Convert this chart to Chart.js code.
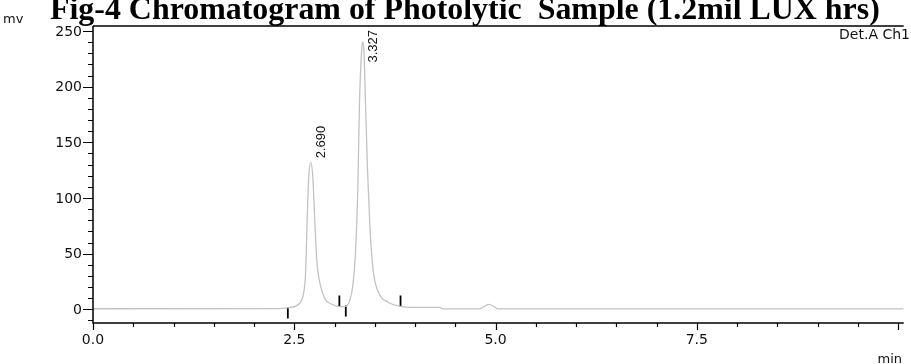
<!DOCTYPE html>
<html>
<head>
<meta charset="utf-8">
<title>Fig-4 Chromatogram</title>
<script src="https://cdn.jsdelivr.net/npm/chart.js@4.4.1/dist/chart.umd.min.js"></script>
<style>
    html, body { margin: 0; padding: 0; background: #fff; overflow: hidden; }
    #wrap { position: relative; width: 911px; height: 364px; }
</style>
</head>
<body>
<div id="wrap"><canvas id="chromChart" width="911" height="364"></canvas></div>
<script>
// Detector trace (time in min, signal in mV)
const times = [0, 2.30, 2.43, 2.51, 2.57, 2.61, 2.64, 2.66, 2.68, 2.705, 2.73, 2.755, 2.78, 2.82, 2.88, 2.96, 3.06,
    3.13, 3.19, 3.23, 3.26, 3.29, 3.31, 3.34, 3.35, 3.365, 3.385, 3.41, 3.44, 3.48, 3.555, 3.66, 3.82, 3.985,
    4.31, 4.35, 4.80, 4.86, 4.92, 4.98, 5.03, 6.00, 8.00, 10.07];
const signal = [0.5, 0.6, 1.5, 2.7, 5.7, 12.6, 32, 80, 119, 132, 119, 80, 44, 23, 9.6, 4.8, 2.4,
    2.4, 8, 23, 50, 110, 185, 236, 240, 233, 185, 125, 74, 35, 14, 6.6, 2.7, 1.8,
    1.8, 0.3, 0.3, 2.5, 4.5, 2.5, 0.3, 0.3, 0.3, 0.3];

// Integration marks (baseline start / end ticks)
const markerTimes = [2.42, 3.06, 3.14, 3.82];
const markerLevels = [-3.3, 7.5, -1.5, 7.5];

// Peak retention time labels
const peakLabels = ['2.690', '3.327'];
const peakTimes = [2.705, 3.35];
const peakHeights = [132, 240];

// Axis ticks
const yTickValues = [0, 50, 100, 150, 200, 250];
const xTickValues = [0, 2.5, 5.0, 7.5];
const xTickLabels = ['0.0', '2.5', '5.0', '7.5'];

const titleText = 'Fig-4 Chromatogram of Photolytic  Sample (1.2mil LUX hrs)';

const traceData = times.map((t, i) => ({ x: t, y: signal[i] }));
const markerData = markerTimes.map((t, i) => ({ x: t, y: markerLevels[i] }));

// Draws frame, ticks, labels and texts around the plot
const chromPlugin = {
    id: 'chromDecor',
    afterDatasetsDraw(chart) {
        const { ctx, chartArea: a, scales } = chart;
        const xs = scales.x, ys = scales.y;
        ctx.save();

        // frame lines
        ctx.strokeStyle = '#000';
        ctx.lineWidth = 1.5;
        ctx.beginPath();
        ctx.moveTo(a.left, a.top);
        ctx.lineTo(a.right, a.top);
        ctx.moveTo(a.left, a.top);
        ctx.lineTo(a.left, a.bottom);
        ctx.lineTo(a.right, a.bottom);
        ctx.stroke();

        // y ticks: minor every 10, major every 50
        ctx.lineWidth = 1.2;
        ctx.beginPath();
        for (let v = -10; v <= 250; v += 10) {
            const py = Math.round(ys.getPixelForValue(v)) + 0.5;
            const len = (v % 50 === 0) ? 10 : 5;
            ctx.moveTo(a.left - len, py);
            ctx.lineTo(a.left, py);
        }
        // x ticks: minor every 0.5, major every 2.5
        for (let k = 0; k <= 20; k++) {
            const t = k * 0.5;
            const px = Math.round(xs.getPixelForValue(t)) + 0.5;
            const len = (k % 5 === 0) ? 7 : 4;
            ctx.moveTo(px, a.bottom);
            ctx.lineTo(px, a.bottom + len);
        }
        ctx.stroke();

        ctx.fillStyle = '#111';
        ctx.font = '14px "DejaVu Sans"';
        ctx.textAlign = 'right';
        ctx.textBaseline = 'middle';
        yTickValues.forEach(v => {
            ctx.fillText(String(v), a.left - 11, ys.getPixelForValue(v) + 1);
        });
        ctx.textAlign = 'center';
        ctx.textBaseline = 'top';
        xTickValues.forEach((t, i) => {
            ctx.fillText(xTickLabels[i], xs.getPixelForValue(t), a.bottom + 10);
        });

        // axis units and detector name
        ctx.textAlign = 'left';
        ctx.textBaseline = 'alphabetic';
        ctx.font = '13px "DejaVu Sans"';
        ctx.fillText('mv', 3, 23);
        ctx.textAlign = 'right';
        ctx.fillText('min', 902, 363);
        ctx.font = '14px "DejaVu Sans"';
        ctx.fillText('Det.A Ch1', 910, 39);

        // peak labels, rotated, kept inside the frame
        ctx.font = '13px "Liberation Sans"';
        ctx.textAlign = 'left';
        ctx.textBaseline = 'middle';
        peakLabels.forEach((lab, i) => {
            const len = ctx.measureText(lab).width;
            const px = xs.getPixelForValue(peakTimes[i]) + 11;
            let bottom = ys.getPixelForValue(peakHeights[i]) - 4;
            if (bottom - len < a.top + 4) bottom = a.top + 4 + len;
            ctx.save();
            ctx.translate(px, bottom);
            ctx.rotate(-Math.PI / 2);
            ctx.fillText(lab, 0, 0);
            ctx.restore();
        });

        // title, top part cut by the page edge
        ctx.fillStyle = '#000';
        ctx.font = 'bold 28px "Liberation Serif"';
        const w = ctx.measureText(titleText).width;
        const size = 28 * 830 / w;
        ctx.font = 'bold ' + size.toFixed(2) + 'px "Liberation Serif"';
        ctx.textAlign = 'left';
        ctx.textBaseline = 'alphabetic';
        ctx.fillText(titleText, 50, 19);

        ctx.restore();
    }
};

const ctx = document.getElementById('chromChart').getContext('2d');
new Chart(ctx, {
    type: 'line',
    data: {
        datasets: [{
            label: 'Det.A Ch1',
            data: traceData,
            borderColor: '#c2c2c2',
            borderWidth: 1.3,
            pointRadius: 0,
            fill: false,
            cubicInterpolationMode: 'monotone'
        }, {
            type: 'scatter',
            label: 'marks',
            data: markerData,
            pointStyle: 'line',
            rotation: 90,
            radius: 5.5,
            borderColor: '#000',
            backgroundColor: '#000',
            borderWidth: 1.8
        }]
    },
    options: {
        responsive: false,
        animation: false,
        devicePixelRatio: 1,
        layout: { padding: { left: 93, top: 26, right: 0, bottom: 41 } },
        plugins: {
            legend: { display: false },
            tooltip: { enabled: false },
            title: { display: false }
        },
        scales: {
            x: { type: 'linear', min: 0, max: 10.07, display: false },
            y: { type: 'linear', min: -12.3, max: 254.5, display: false }
        }
    },
    plugins: [chromPlugin]
});
</script>
</body>
</html>
